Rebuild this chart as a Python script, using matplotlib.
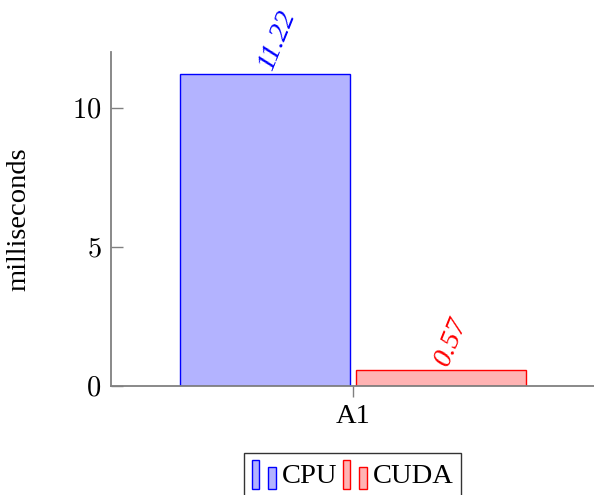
import numpy as np
import matplotlib
matplotlib.use("Agg")
import matplotlib.pyplot as plt
from matplotlib.patches import Rectangle
from matplotlib.legend_handler import HandlerBase
from matplotlib.ticker import FuncFormatter

# data
categories = ["A1"]
series = ["CPU", "CUDA"]
cpu_ms = [11.22]
cuda_ms = [0.57]

FILLS = ["#b3b3ff", "#ffb3b3"]
EDGES = ["blue", "red"]
FS = 20.5

plt.rcParams["font.family"] = ["Liberation Serif", "DejaVu Serif"]
plt.rcParams["mathtext.fontset"] = "cm"


class TwoBars(HandlerBase):
    """pgfplots-style ybar legend image: a tall bar and a short bar."""
    def create_artists(self, legend, orig, xdescent, ydescent, width, height, fontsize, trans):
        fc, ec = orig.get_facecolor(), orig.get_edgecolor()
        w = width * 0.32
        x0 = -xdescent
        y0 = -ydescent - height * 0.12
        tall = Rectangle((x0, y0), w, height * 1.12, fc=fc, ec=ec, lw=1.0, transform=trans)
        short = Rectangle((x0 + width - w, y0), w, height * 0.84, fc=fc, ec=ec, lw=1.0, transform=trans)
        return [tall, short]


fig = plt.figure(figsize=(5.94, 4.95), dpi=100)
ax = fig.add_axes([111 / 594, 1 - 385.7 / 495, 1 - 111 / 594, (385.7 - 52) / 495])

x = np.arange(len(categories)) * 6.0
width = 1.94
handles = []
for i, (vals, name) in enumerate(zip([cpu_ms, cuda_ms], series)):
    off = -1.0 if i == 0 else 1.0
    bars = ax.bar(x + off, vals, width, color=FILLS[i], edgecolor=EDGES[i], lw=1.0, label=name)
    handles.append(bars.patches[0])
    for xb, v in zip(x + off, vals):
        ax.annotate(f"{v:.2f}", xy=(xb, v), xytext=(1, 4), textcoords="offset points",
                    rotation=68, rotation_mode="anchor", ha="left", va="center",
                    color=EDGES[i], fontsize=FS, fontstyle="italic")

ax.set_xlim(-2.75, 2.74)
ax.set_ylim(0, 12)
ax.set_xticks(x)
ax.set_xticklabels(categories, fontsize=FS)
ax.set_yticks([0, 5, 10])
ax.yaxis.set_major_formatter(FuncFormatter(lambda v, p: f"${v:g}$"))
ax.tick_params(axis="y", direction="in", length=8.5, width=1.0, color="gray", labelsize=FS, pad=7)
ax.tick_params(axis="x", direction="out", length=8, width=1.0, color="gray", labelsize=FS, pad=5)
for s in ["top", "right"]:
    ax.spines[s].set_visible(False)
for s in ["left", "bottom"]:
    ax.spines[s].set_color("gray")
    ax.spines[s].set_linewidth(1.3)
ax.set_ylabel("milliseconds", fontsize=FS, labelpad=29)

leg = ax.legend(handles, series, handler_map={h: TwoBars() for h in handles},
                loc="upper center", bbox_to_anchor=(0.5, -0.2017), borderaxespad=0,
                ncol=2, fontsize=FS, frameon=True, fancybox=False, edgecolor="black",
                handlelength=0.85, handleheight=1.0, handletextpad=0.2, columnspacing=0.2,
                borderpad=0.25)
leg.get_frame().set_linewidth(1.0)

fig.savefig("out.png", dpi=100)
